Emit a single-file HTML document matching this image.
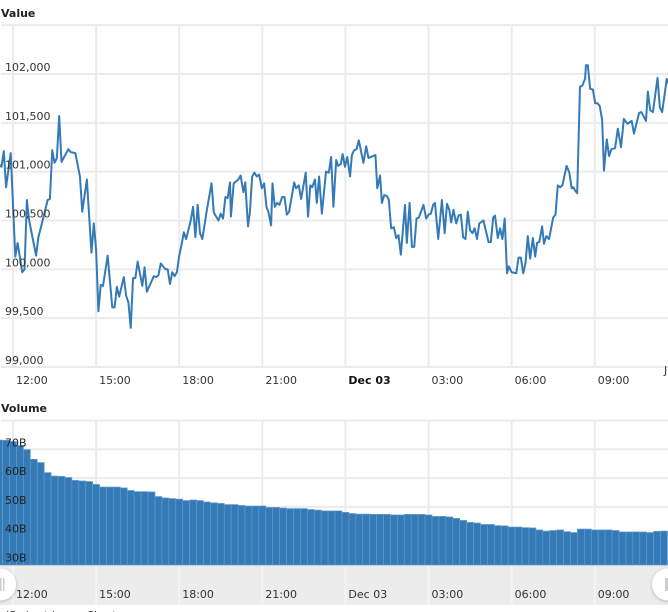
<!DOCTYPE html>
<html lang="en">
<head>
<meta charset="utf-8">
<title>Value and Volume Stock Chart</title>
<style>
html,body{margin:0;padding:0;background:#fff;width:668px;height:612px;overflow:hidden}
svg{display:block;font-family:"DejaVu Sans","Liberation Sans",sans-serif;font-size:11px}
</style>
</head>
<body>
<svg id="chart" width="668" height="612" viewBox="0 0 668 612" xmlns="http://www.w3.org/2000/svg">
  <rect x="0" y="565" width="668" height="40" fill="#ececec"/>
  <g id="grid"></g>
  <g id="bars"></g>
  <path id="line" fill="none" stroke="#337ab7" stroke-width="2" stroke-linejoin="round"/>
  <g id="labels" fill="#333"></g>
  <text x="1" y="17" font-weight="bold" fill="#222">Value</text>
  <text x="1" y="412" font-weight="bold" fill="#222">Volume</text>
  <text x="664" y="374" fill="#333">JS chart by amCharts</text>
  <text x="6" y="619" fill="#333">JS chart by amCharts</text>
  <defs>
    <filter id="handleShadow" x="-40%" y="-40%" width="180%" height="180%"><feDropShadow dx="0" dy="1" stdDeviation="1.5" flood-color="#000" flood-opacity="0.25"/></filter>
  </defs>
  <g>
    <circle cx="0" cy="584.5" r="16" fill="#fff" filter="url(#handleShadow)"/>
    <rect x="0" y="578" width="1.5" height="13" fill="#ccc"/>
    <rect x="3" y="578" width="1.5" height="13" fill="#ccc"/>
  </g>
  <g>
    <circle cx="668" cy="584.5" r="16" fill="#fff" filter="url(#handleShadow)"/>
    <rect x="665" y="578" width="3" height="13" fill="#ccc"/>
  </g>
</svg>
<script>
// Value series: minutes relative to 12:00 on Dec 2, and value at that time
const valueMinutes = [-30,-25,-20,-15,-5,5,10,20,25,30,35,40,50,55,60,70,75,80,85,90,95,100,105,120,125,135,145,150,160,165,170,175,180,185,190,195,205,215,220,225,230,240,245,250,255,260,265,270,280,285,290,305,310,315,320,330,335,340,345,350,355,360,365,370,375,385,390,395,400,405,410,420,430,435,445,450,455,460,465,470,
472,478,488,493,499,503,509,513,518,523,528,533,539,544,549,553,559,562,567,572,577,583,588,593,598,609,613,619,624,634,639,644,648,654,658,663,669,678,684,689,694,700,704,710,714,719,724,730,734,739,744,749,759,765,770,785,789,795,799,804,810,814,819,825,830,835,840,849,853,859,864,869,874,879,889,895,900,905,910,914,921,929,935,940,945,949,954,960,965,970,975,980,985,990,995,1000,1005,1010,1019,1030,1035,1040,1044,1050,1055,1060,1065,1070,1074,1080,1090,1095,1100,1105,1110,1115,1120,1126,1131,1135,1140,1146,1150,1155,1161,1170,1175,1180,1185,1190,1199,1205,1210,1214,1217,1222,1228,1233,1239,1241,1245,1250,1256,1261,1266,1271,1276,1280,1286,1291,1296,1304,1310,1317,1323,1331,1340,1345,1356,1361,1371,1375,1380,1386,1396,1401,1406,1416,1421];
const valueSeries = [101070,101050,101210,100840,101190,100130,100270,99970,100000,100710,100500,100380,100140,100330,100420,100610,100710,100720,101220,101090,101140,101570,101100,101230,101200,101190,100950,100590,100920,100540,100170,100470,100200,99570,99840,99830,100140,99610,99610,99820,99720,99920,99730,99660,99400,99910,99910,100080,99830,100020,99770,99930,99920,99940,100060,100000,100000,99850,99970,99930,99970,100140,100250,100380,100310,100500,100640,100330,100660,100370,100310,100610,100880,100580,100500,100570,100520,100740,100730,100890,
100540,100880,100920,100960,100790,100890,100440,100580,100950,100990,100950,100970,100830,100880,100640,100590,100450,100880,100640,100680,100660,100740,100740,100560,100590,100890,100830,100860,100720,100990,100540,100860,100840,100920,100680,100950,100570,101000,100990,101150,100640,101120,101060,101080,101180,101050,101150,100950,101170,101220,101230,101320,101090,101260,101140,101170,100830,100960,100680,100760,100750,100710,100420,100430,100320,100350,100150,100660,100270,100680,100230,100230,100520,100530,100660,100520,100560,100570,100660,100680,100310,100710,100370,100670,100610,100480,100610,100470,100550,100560,100330,100310,100590,100400,100370,100420,100310,100470,100500,100280,100280,100530,100550,100320,100420,100310,100520,99960,100030,99970,99960,100120,100120,99960,100060,100340,100110,100320,100130,100270,100280,100440,100260,100340,100310,100530,100560,100860,100840,100860,101060,100990,100830,100840,100810,100780,101870,101880,101950,102090,102090,101850,101840,101700,101700,101670,101530,101010,101330,101160,101230,101240,101440,101250,101540,101490,101520,101390,101600,101610,101520,101820,101630,101610,101960,101660,101610,101950,101890];

// Volume series, in billions, one bar every 15 minutes starting at -30
const volumeStartMinute = -30;
const volumeStepMinutes = 15;
const volumeSeries = [73.2,73.1,72.7,71.3,69.9,66.5,65.4,61.9,60.7,60.6,60.2,59.2,59.0,58.8,57.8,56.9,56.9,56.9,56.6,55.7,55.3,55.3,55.2,53.6,53.1,52.9,52.7,52.2,52.4,52.2,51.7,51.4,51.2,50.8,50.8,50.5,50.3,50.3,50.3,49.8,49.8,49.6,49.4,49.4,49.4,49.1,48.9,48.6,48.6,48.6,48.1,47.7,47.5,47.5,47.4,47.4,47.4,47.2,47.2,47.4,47.4,47.4,47.2,46.7,46.7,46.5,46.0,45.3,44.6,44.4,43.9,43.9,43.5,43.4,43.0,43.0,42.8,42.7,42.0,41.6,41.8,42.0,41.4,41.1,42.3,42.3,42.0,42.0,42.0,41.8,41.3,41.3,41.3,41.3,41.1,41.5,41.6];

// Axis ticks
const valueTicks = [102500,102000,101500,101000,100500,100000,99500,99000];
const valueTickLabels = ["","102,000","101,500","101,000","100,500","100,000","99,500","99,000"];
const volumeTicks = [80,70,60,50,40,30];
const volumeTickLabels = ["","70B","60B","50B","40B","30B"];
const timeTicks = [0,180,360,540,720,900,1080,1260];
const timeTickLabels = ["12:00","15:00","18:00","21:00","Dec 03","03:00","06:00","09:00"];

const NS = "http://www.w3.org/2000/svg";
const xScale = m => 13 + m * 0.4617;
const yValue = v => 74 + (102000 - v) / 10.24;
const yVolume = v => 564.5 - (v - 30) * 2.88;
const gridColor = "#ebebeb";

function make(tag, parent, attrs, text) {
  const el = document.createElementNS(NS, tag);
  for (const k in attrs) el.setAttribute(k, attrs[k]);
  if (text !== undefined) el.textContent = text;
  parent.appendChild(el);
  return el;
}

const grid = document.getElementById("grid");
const labels = document.getElementById("labels");

valueTicks.forEach((t, i) => {
  const y = yValue(t);
  const gl = make("line", grid, {x1: 1, x2: 668, y1: y, y2: y, stroke: gridColor, "stroke-width": 2});
  
  
  if (valueTickLabels[i]) {
    const tl = make("text", labels, {x: 5, y: y - 3}, valueTickLabels[i]);
    
    
  }
});

volumeTicks.forEach((t, i) => {
  const y = yVolume(t);
  const gl = make("line", grid, {x1: 1, x2: 668, y1: y, y2: y, stroke: gridColor, "stroke-width": 2});
  
  
  if (volumeTickLabels[i]) {
    const tl = make("text", labels, {x: 5, y: y - 3, fill: "#222"}, volumeTickLabels[i]);
    
    
  }
});

timeTicks.forEach((t, i) => {
  const x = xScale(t);
  const v1 = make("line", grid, {x1: x, x2: x, y1: yValue(valueTicks[0]), y2: yValue(valueTicks[valueTicks.length - 1]), stroke: gridColor, "stroke-width": 2});
  
  
  const v2 = make("line", grid, {x1: x, x2: x, y1: yVolume(volumeTicks[0]), y2: 565, stroke: gridColor, "stroke-width": 2});
  
  
  const v3 = make("line", grid, {x1: x, x2: x, y1: 565, y2: 605, stroke: "#f4f4f4", "stroke-width": 2});
  
  
  const bold = timeTickLabels[i].indexOf("Dec") === 0;
  const a = make("text", labels, {x: x + 3, y: 384, "font-weight": bold ? "bold" : "normal", fill: bold ? "#111" : "#333"}, timeTickLabels[i]);
  
  
  const b = make("text", labels, {x: x + 3, y: 598}, timeTickLabels[i]);
  
  
});

const barsGroup = document.getElementById("bars");
const barStep = xScale(volumeStepMinutes) - xScale(0);
volumeSeries.forEach((v, i) => {
  const cx = xScale(volumeStartMinute + i * volumeStepMinutes);
  const top = yVolume(v);
  const bar = make("rect", barsGroup, {x: cx - barStep / 2, y: top, width: barStep, height: 565 - top, fill: "#337ab7", stroke: "#6399cb", "stroke-width": 0.7});
  
  
});

document.getElementById("line").setAttribute("d",
  valueSeries.map((v, i) => (i ? "L" : "M") + xScale(valueMinutes[i]).toFixed(2) + " " + yValue(v).toFixed(2)).join(""));
</script>
</body>
</html>
